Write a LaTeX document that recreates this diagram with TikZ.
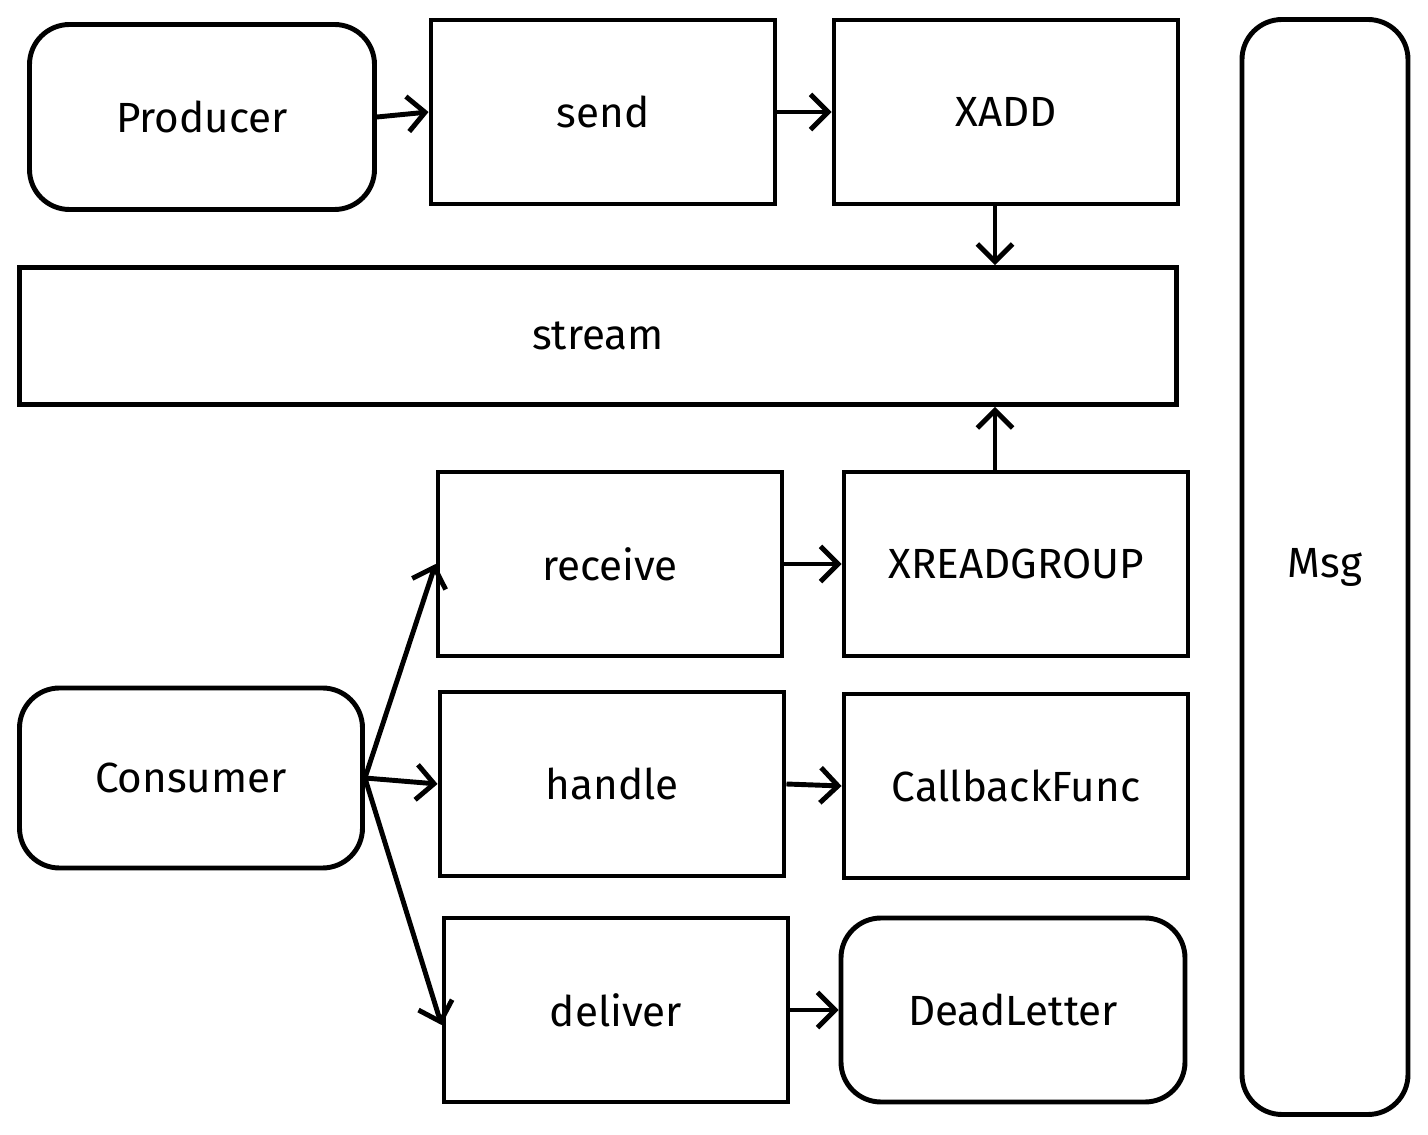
\documentclass[tikz,border=0pt]{standalone}
\usepackage{fontspec}
\setmainfont{Fira Sans}
\usetikzlibrary{arrows.meta}
\tikzset{
  box/.style={draw, line width=1.4pt, rectangle, inner sep=0pt,
    minimum width=3.44cm, minimum height=1.84cm,
    font=\fontsize{12}{14}\selectfont},
  roundbox/.style={box, rounded corners=0.4cm},
  link/.style={-{Straight Barb[length=5pt,width=10pt]}, line width=1.4pt}
}
\begin{document}
\begin{tikzpicture}
\useasboundingbox (0,0) rectangle (14.28,-11.35);
% producer side
\node[roundbox, minimum width=3.45cm, minimum height=1.85cm] (producer) at (2.02,-1.17) {Producer};
\node[box] (send) at (6.03,-1.12) {send};
\node[box] (xadd) at (10.06,-1.12) {XADD};
\node[box, minimum width=11.57cm, minimum height=1.37cm] (stream) at (5.98,-3.36) {stream};
\node[roundbox, minimum width=1.66cm, minimum height=10.95cm] (msg) at (13.25,-5.67) {Msg};
% consumer side
\node[box] (receive) at (6.10,-5.64) {receive};
\node[box] (xread) at (10.16,-5.64) {XREADGROUP};
\node[roundbox, minimum width=3.43cm, minimum height=1.80cm] (consumer) at (1.91,-7.78) {Consumer};
\node[box] (handle) at (6.12,-7.84) {handle};
\node[box] (callback) at (10.16,-7.86) {CallbackFunc};
\node[box] (deliver) at (6.16,-10.10) {deliver};
\node[roundbox] (dead) at (10.13,-10.10) {DeadLetter};
% arrows
\draw[link] (producer.east) -- (send.west);
\draw[link] (send.east) -- (xadd.west);
\draw[link] ([xshift=-0.11cm]xadd.south) -- ([xshift=-0.11cm]xadd.south |- stream.north);
\draw[link] ([xshift=-0.21cm]xread.north) -- ([xshift=-0.21cm]xread.north |- stream.south);
\draw[link] (receive.east) -- (xread.west);
\draw[link] (handle.east) -- (callback.west);
\draw[link] (deliver.east) -- (dead.west);
\draw[link] (consumer.east) -- (receive.west);
\draw[link] (consumer.east) -- (handle.west);
\draw[link] (consumer.east) -- ([yshift=-0.15cm]deliver.west);
\end{tikzpicture}
\end{document}
